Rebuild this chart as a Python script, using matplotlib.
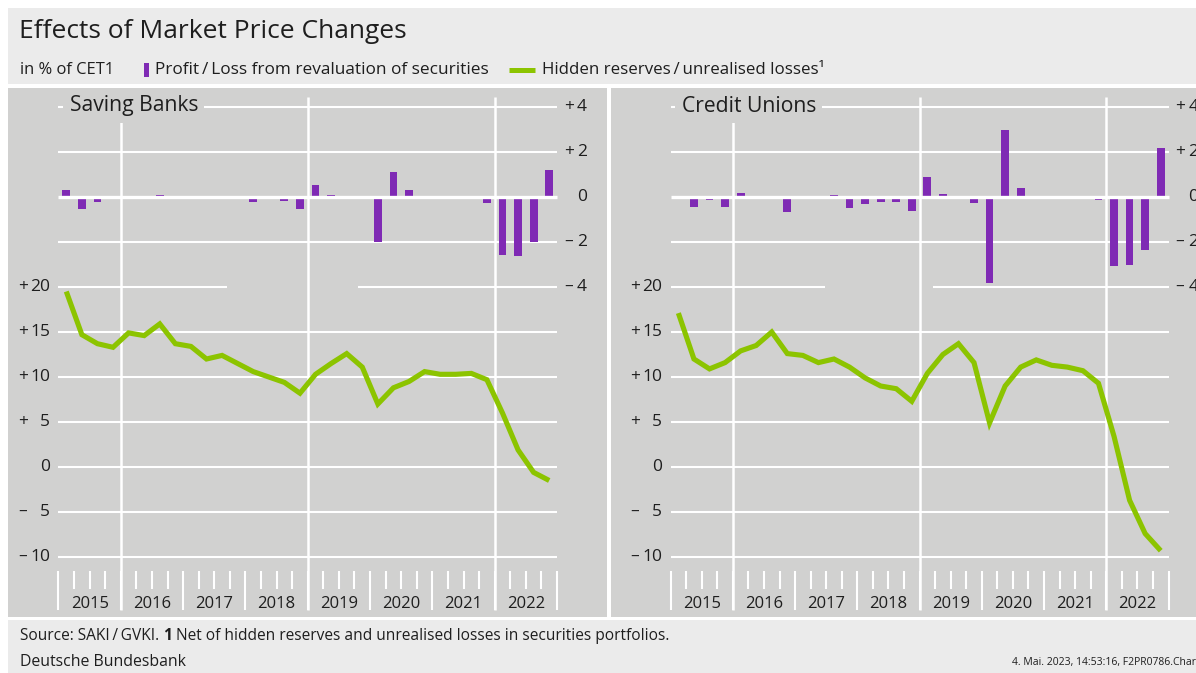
import matplotlib
matplotlib.use("Agg")
import matplotlib.pyplot as plt
from matplotlib.patches import Rectangle
import numpy as np

plt.rcParams['font.family'] = ['Open Sans', 'DejaVu Sans']

W, H = 1196, 673

years = ['2015', '2016', '2017', '2018', '2019', '2020', '2021', '2022']

# quarterly values, 2015 Q1 .. 2022 Q4, in % of CET1
savings_reserves = [19.5, 14.7, 13.7, 13.3, 14.9, 14.6, 15.9, 13.7,
                    13.4, 12.0, 12.4, 11.5, 10.6, 10.0, 9.4, 8.2,
                    10.3, 11.5, 12.6, 11.1, 7.0, 8.8, 9.5, 10.6,
                    10.3, 10.3, 10.4, 9.7, 6.0, 1.9, -0.6, -1.5]
savings_pl = [0.3, -0.55, -0.2, 0.0, 0.0, 0.0, 0.08, 0.0,
              0.0, 0.0, -0.02, -0.05, -0.2, -0.08, -0.17, -0.52,
              0.55, 0.1, 0.0, -0.06, -2.0, 1.13, 0.33, 0.0,
              0.0, 0.0, -0.02, -0.28, -2.58, -2.6, -2.0, 1.21]
credit_reserves = [17.1, 12.0, 10.9, 11.6, 12.9, 13.5, 15.0, 12.6,
                   12.4, 11.6, 12.0, 11.1, 9.9, 9.0, 8.7, 7.3,
                   10.4, 12.5, 13.7, 11.6, 4.9, 9.0, 11.1, 11.9,
                   11.3, 11.1, 10.7, 9.3, 3.4, -3.7, -7.4, -9.3]
credit_pl = [0.02, -0.46, -0.13, -0.46, 0.2, 0.0, 0.02, -0.68,
             0.0, -0.03, 0.08, -0.5, -0.33, -0.2, -0.2, -0.6,
             0.9, 0.12, 0.0, -0.25, -3.8, 3.0, 0.4, 0.0,
             -0.02, 0.0, 0.0, -0.13, -3.05, -3.0, -2.34, 2.2]

left_ticks = [20, 15, 10, 5, 0, -5, -10]
left_signs = ['+', '+', '+', '+', '', '\u2013', '\u2013']
right_ticks = [4, 2, 0, -2, -4]
right_signs = ['+', '+', '', '\u2013', '\u2013']

purple = '#7f2ab4'
green = '#8cc400'
panel_bg = '#d1d1d0'
head_bg = '#ebebeb'
txt = '#1e1e1e'

fig = plt.figure(figsize=(W / 100, H / 100), dpi=100)
fig.patch.set_facecolor('white')

# background axes in pixel coordinates
bg = fig.add_axes([0, 0, 1, 1])
bg.set_xlim(0, W)
bg.set_ylim(H, 0)
bg.axis('off')

bg.add_patch(Rectangle((8, 8), W - 8, 76, color=head_bg, lw=0))
bg.add_patch(Rectangle((8, 620), W - 8, 60, color=head_bg, lw=0))

bg.text(19, 31, 'Effects of Market Price Changes', fontsize=19, color=txt,
        va='center', ha='left')
bg.text(20, 70, 'in % of CET1', fontsize=11.9, color=txt, va='center')
bg.add_patch(Rectangle((144, 63), 5, 14, color=purple, lw=0))
bg.text(155, 70, 'Profit\u2009/\u2009Loss from revaluation of securities',
        fontsize=12.4, color=txt, va='center')
bg.plot([509, 535], [69.5, 69.5], color=green, lw=3.6, solid_capstyle='butt')
bg.text(542, 70, 'Hidden reserves\u2009/\u2009unrealised losses\u00b9',
        fontsize=12.2, color=txt, va='center')

src = bg.text(20, 636, 'Source: SAKI\u2009/\u2009GVKI.', fontsize=11.2,
              color=txt, va='center')
one = bg.annotate('1', xy=(1, 0), xycoords=src, xytext=(3, 0),
                  textcoords='offset points', fontsize=11.2, weight='bold',
                  color=txt, va='bottom')
bg.annotate('Net of hidden reserves and unrealised losses in securities portfolios.',
            xy=(1, 0), xycoords=one, xytext=(3, 0), textcoords='offset points',
            fontsize=11.2, color=txt, va='bottom')
bg.text(20, 662, 'Deutsche Bundesbank', fontsize=11.4, color=txt, va='center')
bg.text(1012, 663, '4. Mai. 2023, 14:53:16, F2PR0786.Chart', fontsize=7.5,
        color=txt, va='center')


def panel(x_left, x_right, x0, x1, title, reserves, pl, g20_end, m4_start):
    qw = (x1 - x0) / 32.0

    def qx(px):
        return (px - x0) / qw

    def gy(py):
        return (467 - py) / 9.0

    def by(py):
        return (197 - py) / 22.5

    ax = fig.add_axes([x_left / W, (H - 617) / H, (x_right - x_left) / W, 529 / H])
    ax.set_facecolor(panel_bg)
    ax.set_xlim(qx(x_left), qx(x_right))
    ax.set_ylim(gy(617), gy(88))
    ax.axis('off')
    ax.add_patch(Rectangle((qx(x_left), gy(617)), qx(x_right) - qx(x_left),
                           gy(88) - gy(617), color=panel_bg, lw=0, zorder=0))

    ax2 = ax.twinx()
    ax2.set_ylim(by(617), by(88))
    ax2.axis('off')

    # grid lines
    for v in left_ticks[1:]:
        ax.hlines(v, 0, 32, color='white', lw=1.5, zorder=1)
    ax.hlines(20, 0, qx(g20_end), color='white', lw=1.5, zorder=1)
    for v in [4, 2, -2]:
        ax2.hlines(v, 0, 32, color='white', lw=1.5, zorder=1)
    ax2.hlines(-4, qx(m4_start), 32, color='white', lw=1.5, zorder=1)

    ax.vlines([4, 16, 28], gy(610), gy(97), color='white', lw=1.8, zorder=1)
    ax.vlines(np.arange(0, 33, 4), gy(610), gy(571), color='white', lw=1.5, zorder=1)
    quarter_ticks = [q for q in range(33) if q % 4]
    ax.vlines(quarter_ticks, gy(589), gy(571), color='white', lw=1.5, zorder=1)

    ax.plot(np.arange(32) + 0.5, reserves, color=green, lw=3.7, zorder=3,
            solid_joinstyle='miter', solid_capstyle='butt')

    ax2.bar(np.arange(32) + 0.5, pl, width=0.5, color=purple, zorder=3)
    ax2.hlines(0, 0, 32, color='white', lw=2.4, zorder=4)

    # tick labels
    for v, s in zip(left_ticks, left_signs):
        ax.text(qx(x0 - 40.5), v, s, ha='left', va='center', fontsize=12.5, color=txt)
        ax.text(qx(x0 - 8.5), v, str(abs(v)), ha='right', va='center',
                fontsize=12.5, color=txt)
    for v, s in zip(right_ticks, right_signs):
        ax2.text(qx(x1 + 7), v, s, ha='left', va='center', fontsize=12.5, color=txt)
        ax2.text(qx(x1 + 30), v, str(abs(v)), ha='right', va='center',
                 fontsize=12.5, color=txt)
    for i, yr in enumerate(years):
        ax.text(4 * i + 2, gy(604), yr, ha='center', va='center', fontsize=12,
                color=txt)

    ax2.text(qx(x0 + 11), by(106), title, ha='left', va='center', fontsize=15.2,
             color=txt, zorder=6,
             bbox=dict(boxstyle='square,pad=0.3', fc=panel_bg, ec='none'))


panel(8, 606.7, 58.5, 557, 'Saving Banks', savings_reserves, savings_pl, 227, 358)
panel(610.7, W, 670.6, 1168.5, 'Credit Unions', credit_reserves, credit_pl, 825, 933)

fig.savefig('out.png', dpi=100, facecolor='white')
